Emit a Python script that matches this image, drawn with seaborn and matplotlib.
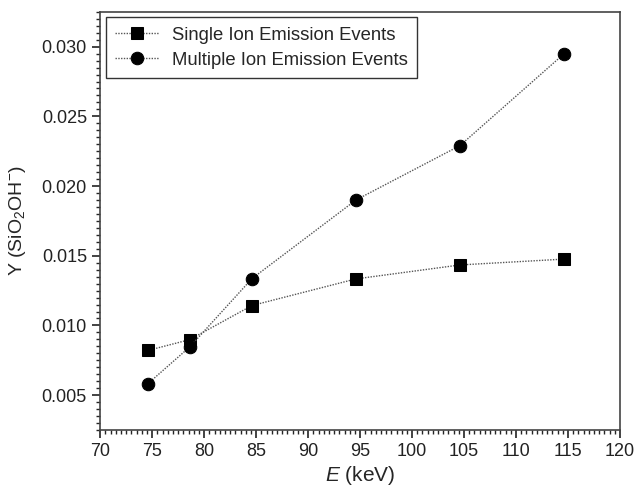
import matplotlib
matplotlib.use("Agg")
import matplotlib.pyplot as plt
import numpy as np
import pandas as pd
import seaborn as sns
from matplotlib.ticker import MultipleLocator

energy = [74.6, 78.6, 84.6, 94.6, 104.6, 114.6]
single_ion = [0.00821, 0.00898, 0.01143, 0.01334, 0.01434, 0.01476]
multiple_ion = [0.00583, 0.00845, 0.01336, 0.0190, 0.0229, 0.02948]
labels = ["Single Ion Emission Events", "Multiple Ion Emission Events"]

df = pd.concat([
    pd.DataFrame({"E": energy, "Y": single_ion, "series": labels[0]}),
    pd.DataFrame({"E": energy, "Y": multiple_ion, "series": labels[1]}),
])

sns.set_style("ticks")
plt.rcParams["font.family"] = ["Liberation Sans", "DejaVu Sans"]
plt.rcParams["mathtext.fontset"] = "custom"
plt.rcParams["mathtext.rm"] = "Liberation Sans"
plt.rcParams["mathtext.it"] = "Liberation Sans:italic"

fig, ax = plt.subplots(figsize=(6.34, 4.92), dpi=100)
sns.lineplot(
    data=df, x="E", y="Y", style="series", hue="series",
    palette={labels[0]: "black", labels[1]: "black"},
    markers={labels[0]: "s", labels[1]: "o"},
    dashes={labels[0]: (1, 1), labels[1]: (1, 1)},
    markersize=9, linewidth=1, markeredgecolor="black",
    ax=ax,
)
for line in ax.get_lines():
    line.set_color("#555555")
    line.set_markerfacecolor("black")
    line.set_markeredgecolor("black")

ax.set_xlim(70, 120)
ax.set_ylim(0.0025, 0.0325)
ax.xaxis.set_major_locator(MultipleLocator(5))
ax.xaxis.set_minor_locator(MultipleLocator(0.5))
ax.yaxis.set_major_locator(MultipleLocator(0.005))
ax.yaxis.set_minor_locator(MultipleLocator(0.0005))
ax.yaxis.set_major_formatter(matplotlib.ticker.FormatStrFormatter("%.3f"))
ax.tick_params(which="major", length=6, width=1.2, labelsize=13, colors="#222222")
ax.tick_params(which="minor", length=3, width=1)
ax.tick_params(top=False, right=False, which="both")
for s in ax.spines.values():
    s.set_color("#444444")
    s.set_linewidth(1.2)

ax.set_xlabel("$E$ (keV)", fontsize=15, labelpad=3)
ax.set_ylabel("Y (SiO$_2$OH$^{-}$)", fontsize=14, labelpad=10)

leg = ax.legend(loc="upper left", fontsize=13.3, frameon=True, fancybox=False,
                edgecolor="black", borderaxespad=0.3, handlelength=2.4,
                handletextpad=0.7, borderpad=0.5, labelspacing=0.45)
leg.get_frame().set_linewidth(1.0)

fig.subplots_adjust(left=0.158, right=0.978, top=0.976, bottom=0.126)
fig.savefig("out.png", dpi=100)
